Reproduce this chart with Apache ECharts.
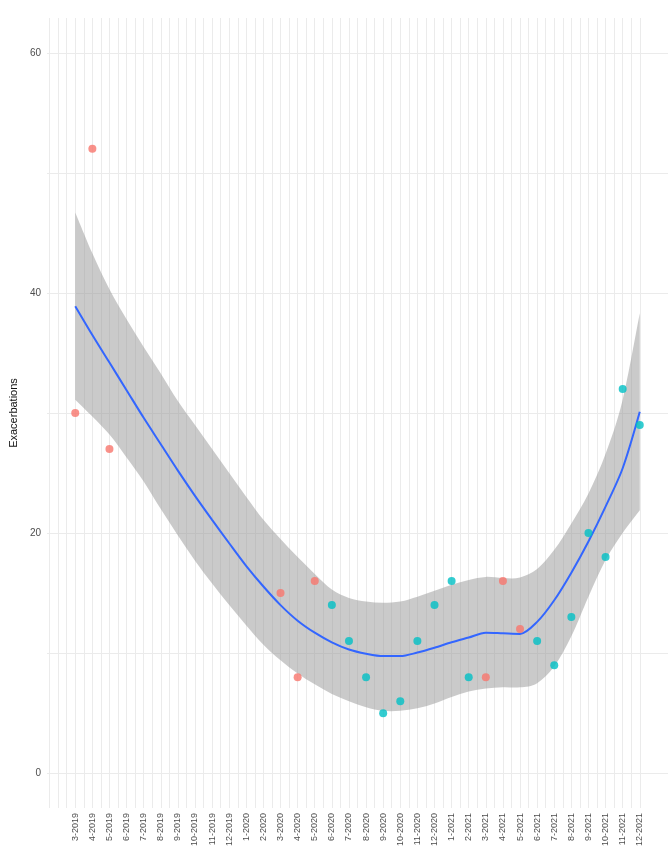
<!DOCTYPE html>
<html>
<head>
<meta charset="utf-8">
<title>Exacerbations by month</title>
<script src="https://cdn.jsdelivr.net/npm/echarts@6/dist/echarts.min.js"></script>
<style>
  html, body { margin: 0; padding: 0; background: #ffffff; }
  #chart { width: 670px; height: 852px; }
</style>
</head>
<body>
<div id="chart"></div>
<script>
// Month labels along the x axis (index 0 = 3-2019)
const months = [
  '3-2019','4-2019','5-2019','6-2019','7-2019','8-2019','9-2019','10-2019','11-2019','12-2019',
  '1-2020','2-2020','3-2020','4-2020','5-2020','6-2020','7-2020','8-2020','9-2020','10-2020',
  '11-2020','12-2020','1-2021','2-2021','3-2021','4-2021','5-2021','6-2021','7-2021','8-2021',
  '9-2021','10-2021','11-2021','12-2021'
];

// Observed monthly exacerbations, split by period: [month index, count]
const periodA = [
  [0, 30], [1, 52], [2, 27], [12, 15], [13, 8], [14, 16], [24, 8], [25, 16], [26, 12]
];
const periodB = [
  [15, 14], [16, 11], [17, 8], [18, 5], [19, 6], [20, 11], [21, 14], [22, 16], [23, 8],
  [27, 11], [28, 9], [29, 13], [30, 20], [31, 18], [32, 32], [33, 29]
];

// Smoothed trend and its confidence band, one value per month
const trend = [
  38.9, 36.5, 34.2, 31.9, 29.6, 27.4, 25.2, 23.1, 21.1, 19.15,
  17.25, 15.55, 14.0, 12.7, 11.7, 10.9, 10.3, 9.95, 9.75, 9.75,
  10.05, 10.45, 10.9, 11.3, 11.7, 11.65, 11.6, 12.6, 14.4, 16.7,
  19.3, 22.2, 25.4, 30.1
];
const bandUpper = [
  46.7, 43.3, 40.3, 37.8, 35.5, 33.3, 31.0, 29.0, 27.0, 25.0,
  23.0, 21.1, 19.5, 18.0, 16.6, 15.3, 14.6, 14.3, 14.2, 14.3,
  14.7, 15.2, 15.7, 16.1, 16.35, 16.25, 16.3, 17.0, 18.6, 20.8,
  23.3, 26.6, 31.1, 38.3
];
const bandLower = [
  31.1, 29.7, 28.2, 26.3, 24.3, 22.0, 19.8, 17.7, 15.8, 14.0,
  12.3, 10.7, 9.4, 8.3, 7.4, 6.6, 6.0, 5.5, 5.2, 5.2,
  5.4, 5.8, 6.35, 6.8, 7.05, 7.15, 7.15, 7.5, 8.9, 11.4,
  14.7, 17.75, 20.0, 21.9
];

// Tick values
const yTicks = [0, 10, 20, 30, 40, 50, 60];
const yLabels = [0, 20, 40, 60];
const xGridTicks = [];
for (let v = -1.5; v <= months.length - 1; v += 0.5) xGridTicks.push(v);
const xLabelTicks = months.map((m, i) => i);

const textGrey = '#4d4d4d';
const gridGrey = '#ebebeb';
const fontFamily = 'Liberation Sans, Arial, sans-serif';

const idx = trend.map((_, i) => i);

// Cardinal-spline path through a list of pixel points (continuing an open path)
function splineSegments(pts) {
  let d = '';
  for (let k = 0; k < pts.length - 1; k++) {
    const p0 = pts[Math.max(k - 1, 0)];
    const p1 = pts[k];
    const p2 = pts[k + 1];
    const p3 = pts[Math.min(k + 2, pts.length - 1)];
    const c1x = p1[0] + (p2[0] - p0[0]) / 6;
    const c1y = p1[1] + (p2[1] - p0[1]) / 6;
    const c2x = p2[0] - (p3[0] - p1[0]) / 6;
    const c2y = p2[1] - (p3[1] - p1[1]) / 6;
    d += ' C' + c1x + ',' + c1y + ' ' + c2x + ',' + c2y + ' ' + p2[0] + ',' + p2[1];
  }
  return d;
}

const chart = echarts.init(document.getElementById('chart'), null, { renderer: 'canvas' });

chart.setOption({
  animation: false,
  backgroundColor: '#ffffff',
  grid: { left: 45, right: 2, top: 18, bottom: 44, containLabel: false },
  xAxis: {
    type: 'value',
    min: -1.65,
    max: months.length - 1 + 1.65,
    axisLine: { show: false },
    axisTick: { show: false, customValues: xGridTicks },
    axisLabel: {
      customValues: xLabelTicks,
      rotate: 90,
      margin: 5,
      fontSize: 9,
      color: textGrey,
      fontFamily: fontFamily,
      formatter: v => months[Math.round(v)] || ''
    },
    splitLine: { show: true, lineStyle: { color: gridGrey, width: 1 } }
  },
  yAxis: {
    type: 'value',
    min: -2.9,
    max: 62.9,
    name: 'Exacerbations',
    nameLocation: 'middle',
    nameGap: 27,
    nameRotate: 90,
    nameTextStyle: { fontSize: 11, color: '#111111', fontFamily: fontFamily },
    axisLine: { show: false },
    axisTick: { show: false, customValues: yTicks },
    axisLabel: {
      customValues: yLabels,
      margin: 6,
      fontSize: 10,
      color: textGrey,
      fontFamily: fontFamily
    },
    splitLine: { show: true, lineStyle: { color: gridGrey, width: 1 } }
  },
  series: [
    {
      // Confidence band: upper edge left-to-right, lower edge back right-to-left
      name: 'band',
      type: 'custom',
      silent: true,
      z: 1,
      data: idx.map(i => [i, bandLower[i], bandUpper[i]]),
      encode: { x: 0, y: [1, 2] },
      renderItem: function (params, api) {
        if (params.dataIndex !== 0) return null;
        const up = idx.map(i => api.coord([i, bandUpper[i]]));
        const lo = idx.map(i => api.coord([i, bandLower[i]])).reverse();
        let d = 'M' + up[0][0] + ',' + up[0][1] + splineSegments(up);
        d += ' L' + lo[0][0] + ',' + lo[0][1] + splineSegments(lo) + ' Z';
        return {
          type: 'path',
          shape: { pathData: d },
          style: { fill: 'rgba(153,153,153,0.52)', stroke: null }
        };
      }
    },
    {
      name: 'trend',
      type: 'line',
      data: idx.map(i => [i, trend[i]]),
      symbol: 'none',
      smooth: 0.3,
      lineStyle: { color: '#3366FF', width: 2 },
      z: 3
    },
    {
      name: 'Period A',
      type: 'scatter',
      data: periodA,
      symbolSize: 8,
      itemStyle: { color: '#F8766D' },
      z: 4
    },
    {
      name: 'Period B',
      type: 'scatter',
      data: periodB,
      symbolSize: 8,
      itemStyle: { color: '#00BFC4' },
      z: 4
    }
  ]
});
</script>
</body>
</html>
